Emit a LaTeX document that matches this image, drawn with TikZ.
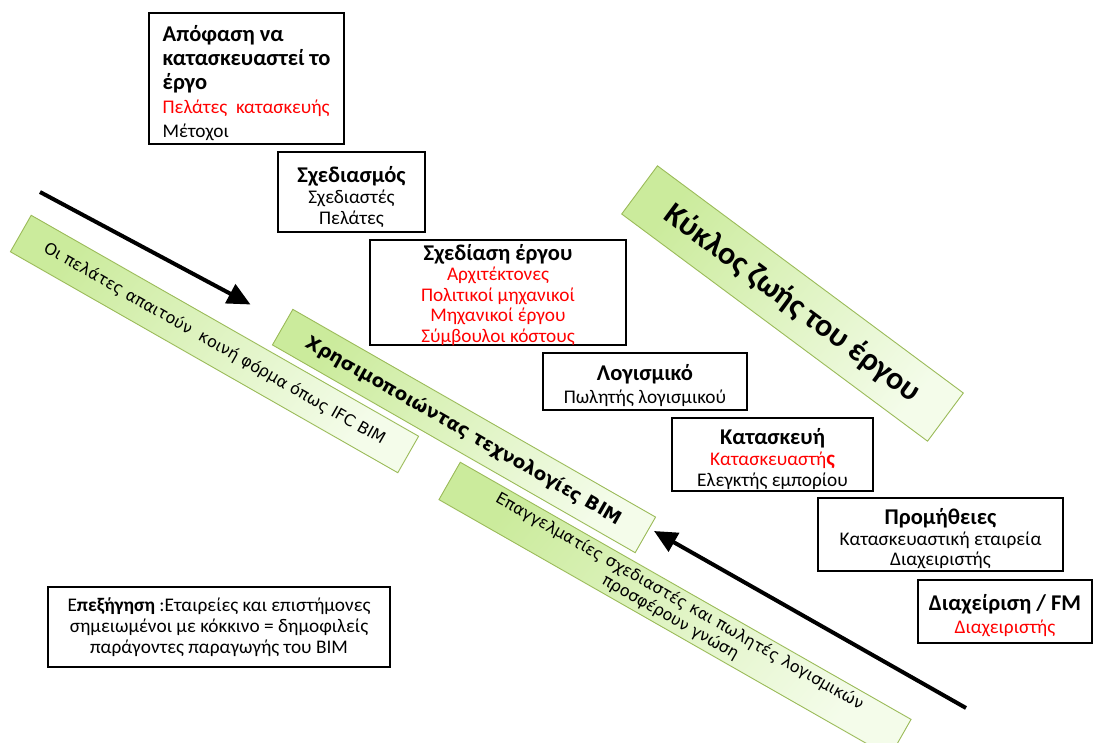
\documentclass[tikz,border=0pt]{standalone}
\usepackage{fontspec}
\setmainfont{Carlito}
\newfontfamily\verd{DejaVu Sans}
\usetikzlibrary{arrows.meta}
\definecolor{barA}{HTML}{CBEB9C}
\definecolor{barB}{HTML}{F4FCEA}
\definecolor{barLine}{HTML}{9BBB59}
\definecolor{redtxt}{HTML}{FF0000}
\newcommand{\ttl}[1]{{\bfseries\fontsize{22.5}{21}\selectfont\rule{0pt}{25pt}#1}}
\newcommand{\ttlb}[1]{{\bfseries\fontsize{22.5}{21}\selectfont #1}}
\newcommand{\rtx}[1]{{\color{redtxt}#1}}
\tikzset{
  box/.style={draw=black, line width=2.6pt, fill=white, align=center, inner sep=0pt,
    font=\fontsize{19.3}{21}\selectfont},
  bar/.style={draw=barLine, line width=0.9pt, top color=barA, bottom color=barB,
    shading angle=50, inner sep=0pt, align=center},
  bigarrow/.style={line width=4pt, -{Triangle[length=23pt,width=21pt]}}
}
\begin{document}
\begin{tikzpicture}[x=1pt,y=-1pt]
\useasboundingbox[fill=white] (0,0) rectangle (1094,742);

% green bars
\node[bar, rotate=-29.7, minimum width=446, minimum height=42,
  font=\verd\fontsize{16}{19}\selectfont] (b1) at (214.5,344)
  {Οι πελάτες απαιτούν \ κοινή φόρμα όπως IFC BIM};
\node[bar, rotate=-29.8, minimum width=418, minimum height=41,
  font=\verd\bfseries\fontsize{18.3}{21}\selectfont] (b2) at (464,431)
  {Χρησιμοποιώντας τεχνολογίες BIM};
\node[bar, rotate=-29.7, minimum width=519, minimum height=43,
  font=\verd\fontsize{16}{18.5}\selectfont] (b3) at (675,609.5)
  {Επαγγελματίες σχεδιαστές και πωλητές λογισμικών\\προσφέρουν γνώση};
\node[bar, rotate=-36.6, minimum width=381, minimum height=60,
  font=\bfseries\fontsize{32}{36}\selectfont] (b4) at (792.5,303.5)
  {Κύκλος ζωής του έργου};

% boxes
\node[box, minimum width=195, minimum height=131, align=left,
  font=\fontsize{19.3}{24}\selectfont] (n1) at (246.5,78.5)
  {\ttl{Απόφαση να}\\
   \ttlb{κατασκευαστεί το}\\
   \ttlb{έργο}\\
   \rtx{Πελάτες \ κατασκευής}\\
   Μέτοχοι};
\node[box, minimum width=147, minimum height=80] (n2) at (351.5,192)
  {\ttl{Σχεδιασμός}\\Σχεδιαστές\\Πελάτες};
\node[box, minimum width=256, minimum height=105, inner ysep=-2pt,
  font=\fontsize{19.3}{20.6}\selectfont] (n3) at (498,292.5)
  {{\bfseries\fontsize{22.5}{21}\selectfont\rule{0pt}{21pt}Σχεδίαση έργου}\\
   \rtx{Αρχιτέκτονες}\\
   \rtx{Πολιτικοί μηχανικοί}\\
   \rtx{Μηχανικοί έργου}\\
   \rtx{Σύμβουλοι κόστους}};
\node[box, minimum width=204, minimum height=57, font=\fontsize{19.3}{23}\selectfont] (n4) at (645,381.5)
  {\ttl{Λογισμικό}\\Πωλητής λογισμικού};
\node[box, minimum width=201, minimum height=73] (n5) at (772.5,454.5)
  {\ttl{Κατασκευή}\\
   \rtx{Κατασκευαστή{\bfseries\fontsize{21}{21}\selectfont ς}}\\
   Ελεγκτής εμπορίου};
\node[box, minimum width=245, minimum height=73, font=\fontsize{19.3}{20.5}\selectfont] (n6) at (940.5,534.5)
  {\ttl{Προμήθειες}\\Κατασκευαστική εταιρεία\\Διαχειριστής};
\node[box, minimum width=174, minimum height=63, font=\fontsize{19.3}{23}\selectfont] (n7) at (1005,611.5)
  {\ttl{Διαχείριση / FM}\\\rtx{Διαχειριστής}};
\node[box, minimum width=342, minimum height=80] (leg) at (219,627)
  {Ε{\bfseries πεξήγηση} :Εταιρείες και επιστήμονες\\
   σημειωμένοι με κόκκινο = δημοφιλείς\\
   παράγοντες παραγωγής του BIM};

% arrows
\coordinate (a1s) at (40,192);
\coordinate (a1e) at (250.5,304.5);
\coordinate (a2s) at (966,708);
\coordinate (a2e) at (654,531);
\draw[bigarrow] (a1s) -- (a1e);
\draw[bigarrow] (a2s) -- (a2e);
\end{tikzpicture}
\end{document}
